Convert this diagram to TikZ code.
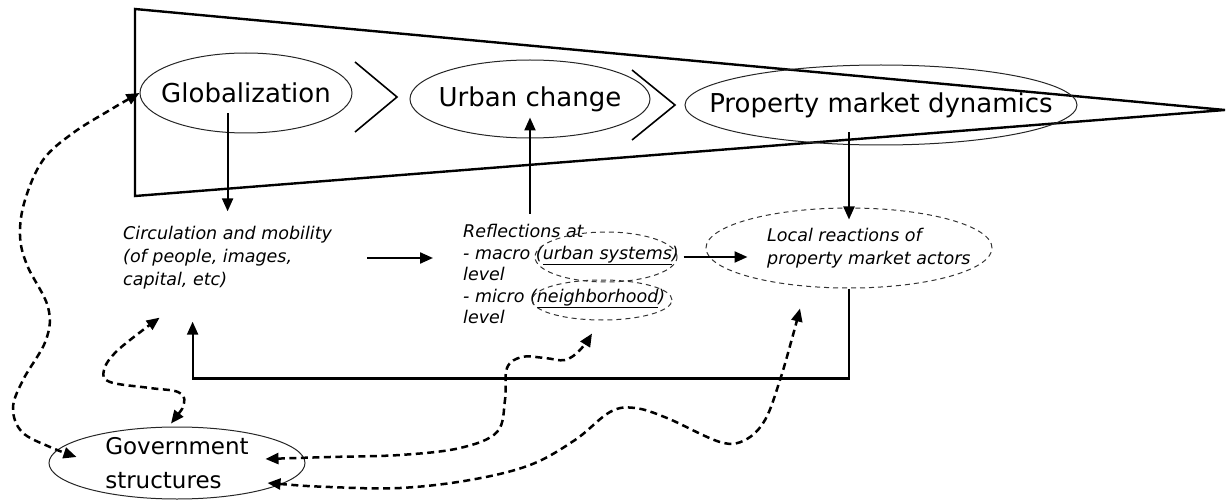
\documentclass[tikz,border=0pt]{standalone}
\usepackage{fontspec}
\setmainfont{DejaVu Sans}
\usetikzlibrary{shapes.geometric,arrows.meta}
\begin{document}
\begin{tikzpicture}[x=1pt,y=-1pt,
    oval/.style={ellipse,draw=black!85,line width=1pt,inner xsep=-40pt,inner ysep=-10pt,
      font=\fontsize{26}{30}\selectfont},
    dashoval/.style={ellipse,draw=black!80,line width=1pt,dash pattern=on 5pt off 4pt,inner sep=0pt},
    note/.style={anchor=west,align=left,inner sep=0pt,font=\fontsize{17.5}{23}\selectfont\itshape},
    arr/.style={line width=2.2pt,-{Triangle[length=13pt,width=11pt]}},
    dasharr/.style={line width=2.5pt,dash pattern=on 7pt off 4.5pt,
      {Triangle[length=13pt,width=11pt]}-{Triangle[length=13pt,width=11pt]}}]
  \useasboundingbox (0,0) rectangle (1227,500);
  % funnel and chevrons
  \draw[line width=2.4pt] (135,9) -- (1225,110) -- (135,196) -- cycle;
  \draw[line width=1.6pt] (355,62) -- (397,97) -- (355,132);
  \draw[line width=1.6pt] (632,70) -- (675,105) -- (632,140);
  % ovals
  \node[oval,minimum width=212pt,minimum height=80pt] (glob) at (246,93) {Globalization};
  \node[oval,minimum width=240pt,minimum height=78pt] (urban) at (530,99) {Urban change};
  \node[oval,minimum width=392pt,minimum height=80pt] (pmd) at (881,105) {Property market dynamics};
  \node[oval,minimum width=256pt,minimum height=72pt,align=left,
    font=\fontsize{23}{34}\selectfont] (gov) at (177,463) {Government\\structures};
  % texts
  \node[note] (circ) at (123,258) {Circulation and mobility\\(of people, images,\\capital, etc)};
  \node[note,font=\fontsize{17.5}{21.5}\selectfont\itshape] (refl) at (463,274)
    {Reflections at\\- macro (\underline{urban systems})\\level\\- micro (\underline{neighborhood})\\level};
  \node[dashoval,minimum width=142pt,minimum height=50pt] (urbsys) at (606,257) {};
  \node[dashoval,minimum width=140pt,minimum height=40pt] (neigh) at (602,300) {};
  \node[dashoval,minimum width=286pt,minimum height=80pt] (local) at (849,248) {};
  \node[note] (loctxt) at (767,248) {Local reactions of\\property market actors};
  % solid arrows
  \draw[arr,shorten <=-20pt,shorten >=15pt] (glob.south -| circ.north) -- (circ.north);
  \draw[arr,shorten <=35pt,shorten >=30pt] (circ.east) -- (circ.east -| refl.west);
  \draw[arr,shorten >=-21pt] ([yshift=-75pt]urban.south) -- (urban.south);
  \draw[arr,shorten <=6pt,shorten >=-42pt] (urbsys.east) -- (urbsys.east -| local.west);
  \draw[arr,shorten <=-13pt,shorten >=-12pt] (local.north |- pmd.south) -- (local.north);
  \draw[arr,shorten >=32pt] (local.south) -- ++(0,90) -| ([xshift=-35pt]circ.south);
  % dashed links of government
  \draw[dasharr] plot[smooth,tension=0.6] coordinates {(glob.west) (110,110) (73,133) (43,160)
    (25,200) (20,235) (27,265) (48,307) (46,340) (23,380) (13,408) (22,432) (50,447)
    ([xshift=28pt,yshift=6pt]gov.west)};
  \draw[dasharr] plot[smooth,tension=0.6] coordinates {([xshift=-6pt,yshift=3pt]gov.north)
    (184,403) (178,392) (150,388) (110,382) (104,370) (118,350)
    ([xshift=-68pt,yshift=-28pt]circ.south)};
  \draw[dasharr] plot[smooth,tension=0.6] coordinates {([xshift=-40pt,yshift=4pt]gov.east)
    (330,457) (400,455) (460,448) (497,432) (505,400) (507,368) (522,357) (545,358) (565,360)
    (580,350) ([xshift=-10pt,yshift=-13pt]neigh.south)};
  \draw[dasharr] plot[smooth,tension=0.6] coordinates {([xshift=-38pt,yshift=-20pt]gov.east)
    (330,487) (400,488) (470,480) (530,465) (575,440) (610,412) (635,408) (667,418) (720,442)
    (745,440) (765,420) (780,380) (793,335) ([xshift=-49pt,yshift=-20pt]local.south)};
\end{tikzpicture}
\end{document}
